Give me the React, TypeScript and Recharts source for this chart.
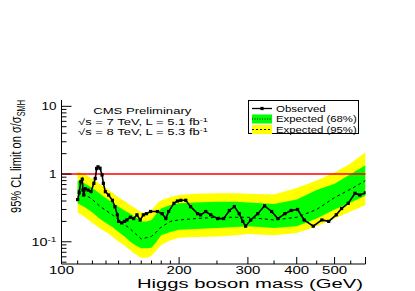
import React from 'react';
import { ComposedChart, Area, Line, XAxis, YAxis, ReferenceLine } from 'recharts';

const FONT = '"Liberation Sans", Arial, Helvetica, sans-serif';

// observed 95% CL limit (mass in GeV, limit in units of sigma/sigma_SM)
const obsMass = [
  110, 111, 112, 113, 113.5, 114, 115, 117, 119, 121, 122, 123, 124, 125.5, 127, 128, 129.5,
  132, 135, 137, 139, 140, 142.5, 145, 147, 150, 153, 156, 159, 162, 165, 169, 176, 181, 185,
  188, 194, 198, 202, 208, 214, 223, 227, 234, 241, 251, 260, 269, 277, 285, 291, 296, 305,
  318, 331, 345, 358, 373, 387, 402, 418, 441, 464, 483, 505, 521, 542, 564, 580, 600,
];
const obsLimit = [
  0.42, 0.53, 0.77, 0.84, 0.58, 0.49, 0.61, 0.58, 0.55, 0.73, 0.86, 1.21, 1.28, 1.22, 0.97, 0.73, 0.55,
  0.49, 0.41, 0.33, 0.25, 0.2, 0.19, 0.2, 0.21, 0.23, 0.22, 0.25, 0.21, 0.25, 0.26, 0.28, 0.28, 0.26, 0.22,
  0.28, 0.37, 0.4, 0.41, 0.41, 0.33, 0.26, 0.25, 0.28, 0.25, 0.22, 0.22, 0.29, 0.33, 0.26, 0.2, 0.17, 0.21,
  0.26, 0.34, 0.28, 0.22, 0.26, 0.29, 0.3, 0.21, 0.17, 0.21, 0.2, 0.25, 0.31, 0.37, 0.52, 0.49, 0.53,
];

// expected limit: median, 68% and 95% bands
const expMass = [
  110, 115, 120, 125, 130, 135, 140, 145, 150, 155, 160, 165, 170, 175, 180, 190, 200, 220, 250,
  280, 300, 350, 400, 450, 500, 550, 600,
];
const expMedian = [
  0.58, 0.5, 0.42, 0.34, 0.29, 0.25, 0.21, 0.18, 0.155, 0.13, 0.11, 0.115, 0.12, 0.14, 0.165, 0.2, 0.21,
  0.22, 0.23, 0.23, 0.23, 0.21, 0.23, 0.3, 0.45, 0.6, 0.8,
];
const exp68Lo = [
  0.37, 0.32, 0.27, 0.22, 0.19, 0.165, 0.14, 0.12, 0.1, 0.088, 0.08, 0.08, 0.082, 0.1, 0.125, 0.14, 0.15,
  0.155, 0.16, 0.165, 0.17, 0.16, 0.17, 0.22, 0.3, 0.38, 0.48,
];
const exp68Hi = [
  0.8, 0.72, 0.62, 0.52, 0.44, 0.38, 0.33, 0.29, 0.26, 0.23, 0.2, 0.2, 0.21, 0.26, 0.31, 0.35, 0.37,
  0.38, 0.39, 0.39, 0.38, 0.36, 0.42, 0.58, 0.72, 1.0, 1.35,
];
const exp95Lo = [
  0.27, 0.23, 0.19, 0.16, 0.14, 0.12, 0.1, 0.088, 0.075, 0.065, 0.058, 0.058, 0.062, 0.075, 0.09, 0.105,
  0.115, 0.118, 0.12, 0.125, 0.13, 0.125, 0.135, 0.17, 0.22, 0.28, 0.35,
];
const exp95Hi = [
  1.08, 0.98, 0.85, 0.72, 0.62, 0.53, 0.45, 0.4, 0.35, 0.31, 0.27, 0.27, 0.29, 0.36, 0.41, 0.46, 0.49,
  0.51, 0.52, 0.52, 0.51, 0.5, 0.62, 0.8, 1.05, 1.45, 2.1,
];

const xLabels = [100, 200, 300, 400, 500];
const xMajor = [100, 200, 300, 400, 500, 600];
const xMinor = [110, 120, 130, 140, 150, 160, 170, 180, 190, 250, 350, 450, 550];
const yLabels = [0.1, 1, 10];
const yMinor = [0.05, 0.06, 0.07, 0.08, 0.09, 0.2, 0.3, 0.4, 0.5, 0.6, 0.7, 0.8, 0.9, 2, 3, 4, 5, 6, 7, 8, 9];

const xTicks = [...xMajor, ...xMinor].sort((a, b) => a - b);
const yTicks = [...yLabels, ...yMinor].sort((a, b) => a - b);

const observed = obsMass.map((m, i) => ({ m, v: obsLimit[i] }));
const expected = expMass.map((m, i) => ({
  m,
  med: expMedian[i],
  b68: [exp68Lo[i], exp68Hi[i]],
  b95: [exp95Lo[i], exp95Hi[i]],
}));

// ROOT style: tick marks point into the frame
const XTick = ({ x, y, payload, top }: any) => {
  const v = payload.value;
  const len = xMajor.includes(v) ? 7 : 3.5;
  const dir = top ? 1 : -1;
  return (
    <g>
      <line x1={x} x2={x} y1={y} y2={y + dir * len} stroke="#000" strokeWidth={1} />
      {!top && xLabels.includes(v) && (
        <text x={x} y={y + 9.5} textAnchor="middle" fontSize={10} fontFamily={FONT} fill="#000"
          textLength={25} lengthAdjust="spacingAndGlyphs">
          {v}
        </text>
      )}
    </g>
  );
};

const YTick = ({ x, y, payload, right }: any) => {
  const v = payload.value;
  const major = yLabels.includes(v);
  const len = major ? 10 : 5;
  const dir = right ? -1 : 1;
  let label: any = null;
  if (!right && major) {
    label = v === 0.1 ? (
      <text x={x - 5} y={y + 4} textAnchor="end" fontSize={10} fontFamily={FONT} fill="#000"
        textLength={25} lengthAdjust="spacingAndGlyphs">
        10<tspan fontSize={7} dy={-4}>-1</tspan>
      </text>
    ) : (
      <text x={x - 5} y={y + 4} textAnchor="end" fontSize={10} fontFamily={FONT} fill="#000"
        textLength={v === 10 ? 15 : 7.5} lengthAdjust="spacingAndGlyphs">
        {v}
      </text>
    );
  }
  return (
    <g>
      <line x1={x} x2={x + dir * len} y1={y} y2={y} stroke="#000" strokeWidth={1} />
      {label}
    </g>
  );
};

const Square = (p: any) =>
  p.cx == null ? <g /> : <rect x={p.cx - 1.6} y={p.cy - 1.6} width={3.2} height={3.2} fill="#000" />;

const axisCommon = {
  type: 'number' as const,
  scale: 'log' as const,
  allowDataOverflow: true,
  interval: 0 as const,
  tickLine: false,
  tickSize: 0,
  tickMargin: 0,
  axisLine: { stroke: '#000' },
};

export default function App() {
  return (
    <div style={{ position: 'absolute', left: 0, top: 0, width: 415, height: 291, background: '#fff' }}>
      <ComposedChart width={415} height={291} data={expected}
        margin={{ top: 100, right: 49.5, left: 0, bottom: 0 }}>
        <XAxis xAxisId="x" dataKey="m" {...axisCommon} domain={[100, 600]} ticks={xTicks}
          tick={<XTick />} height={27} />
        <XAxis xAxisId="xt" orientation="top" {...axisCommon} domain={[100, 600]} ticks={xTicks}
          tick={<XTick top />} height={0} />
        <YAxis yAxisId="y" {...axisCommon} domain={[0.047, 12.4]} ticks={yTicks}
          tick={<YTick />} width={61.5} />
        <YAxis yAxisId="yr" orientation="right" {...axisCommon} domain={[0.047, 12.4]} ticks={yTicks}
          tick={<YTick right />} width={0} />

        <Area xAxisId="x" yAxisId="y" dataKey="b95" type="linear" fill="#ffff00" fillOpacity={1}
          stroke="none" isAnimationActive={false} />
        <Area xAxisId="x" yAxisId="y" dataKey="b68" type="linear" fill="#00ff00" fillOpacity={1}
          stroke="none" isAnimationActive={false} />
        <Line xAxisId="x" yAxisId="y" dataKey="med" type="linear" stroke="#000" strokeWidth={1}
          strokeDasharray="3 3" dot={false} isAnimationActive={false} />
        <ReferenceLine xAxisId="x" yAxisId="y" y={1} stroke="#ff0000" strokeWidth={1.5} />
        <Line xAxisId="x" yAxisId="y" data={observed} dataKey="v" type="linear" stroke="#000"
          strokeWidth={1.6} dot={<Square />} isAnimationActive={false} />
      </ComposedChart>

      <svg width={415} height={291} style={{ position: 'absolute', left: 0, top: 0, pointerEvents: 'none' }}
        fontFamily={FONT}>
        {/* axis titles */}
        <text transform="translate(20.5,156.5) rotate(-90)" textAnchor="middle" fontSize={15}
          textLength={113} lengthAdjust="spacingAndGlyphs">
          95% CL limit on σ/σ<tspan fontSize={10} dy={4}>SMH</tspan>
        </text>
        <text x={363} y={287.5} textAnchor="end" fontSize={12.5} textLength={226} lengthAdjust="spacingAndGlyphs">
          Higgs boson mass (GeV)
        </text>

        {/* CMS label */}
        <text x={93.3} y={113.5} fontSize={8.5} textLength={98} lengthAdjust="spacingAndGlyphs">CMS Preliminary</text>
        <text x={78} y={125} fontSize={8.5} textLength={130} lengthAdjust="spacingAndGlyphs">
          √s = 7 TeV, L = 5.1 fb<tspan fontSize={6} dy={-3}>-1</tspan>
        </text>
        <text x={78} y={134.5} fontSize={8.5} textLength={130} lengthAdjust="spacingAndGlyphs">
          √s = 8 TeV, L = 5.3 fb<tspan fontSize={6} dy={-3}>-1</tspan>
        </text>

        {/* legend */}
        <rect x={248.5} y={100.5} width={110} height={33} fill="#fff" stroke="#000" strokeWidth={1} />
        <line x1={252} x2={272} y1={108.5} y2={108.5} stroke="#000" strokeWidth={1.3} />
        <rect x={260.4} y={106.9} width={3.2} height={3.2} fill="#000" />
        <rect x={252} y={114.5} width={20} height={9} fill="#00ff00" />
        <line x1={252} x2={272} y1={119} y2={119} stroke="#000" strokeWidth={1} strokeDasharray="1 1.5" />
        <rect x={252} y={125} width={20} height={9} fill="#ffff00" />
        <line x1={252} x2={272} y1={129.5} y2={129.5} stroke="#000" strokeWidth={1} strokeDasharray="2 2" />
        <text x={276} y={111.5} fontSize={9} textLength={49.7} lengthAdjust="spacingAndGlyphs">Observed</text>
        <text x={276} y={122.3} fontSize={9} textLength={80.7} lengthAdjust="spacingAndGlyphs">Expected (68%)</text>
        <text x={276} y={133} fontSize={9} textLength={80.7} lengthAdjust="spacingAndGlyphs">Expected (95%)</text>
      </svg>
    </div>
  );
}
